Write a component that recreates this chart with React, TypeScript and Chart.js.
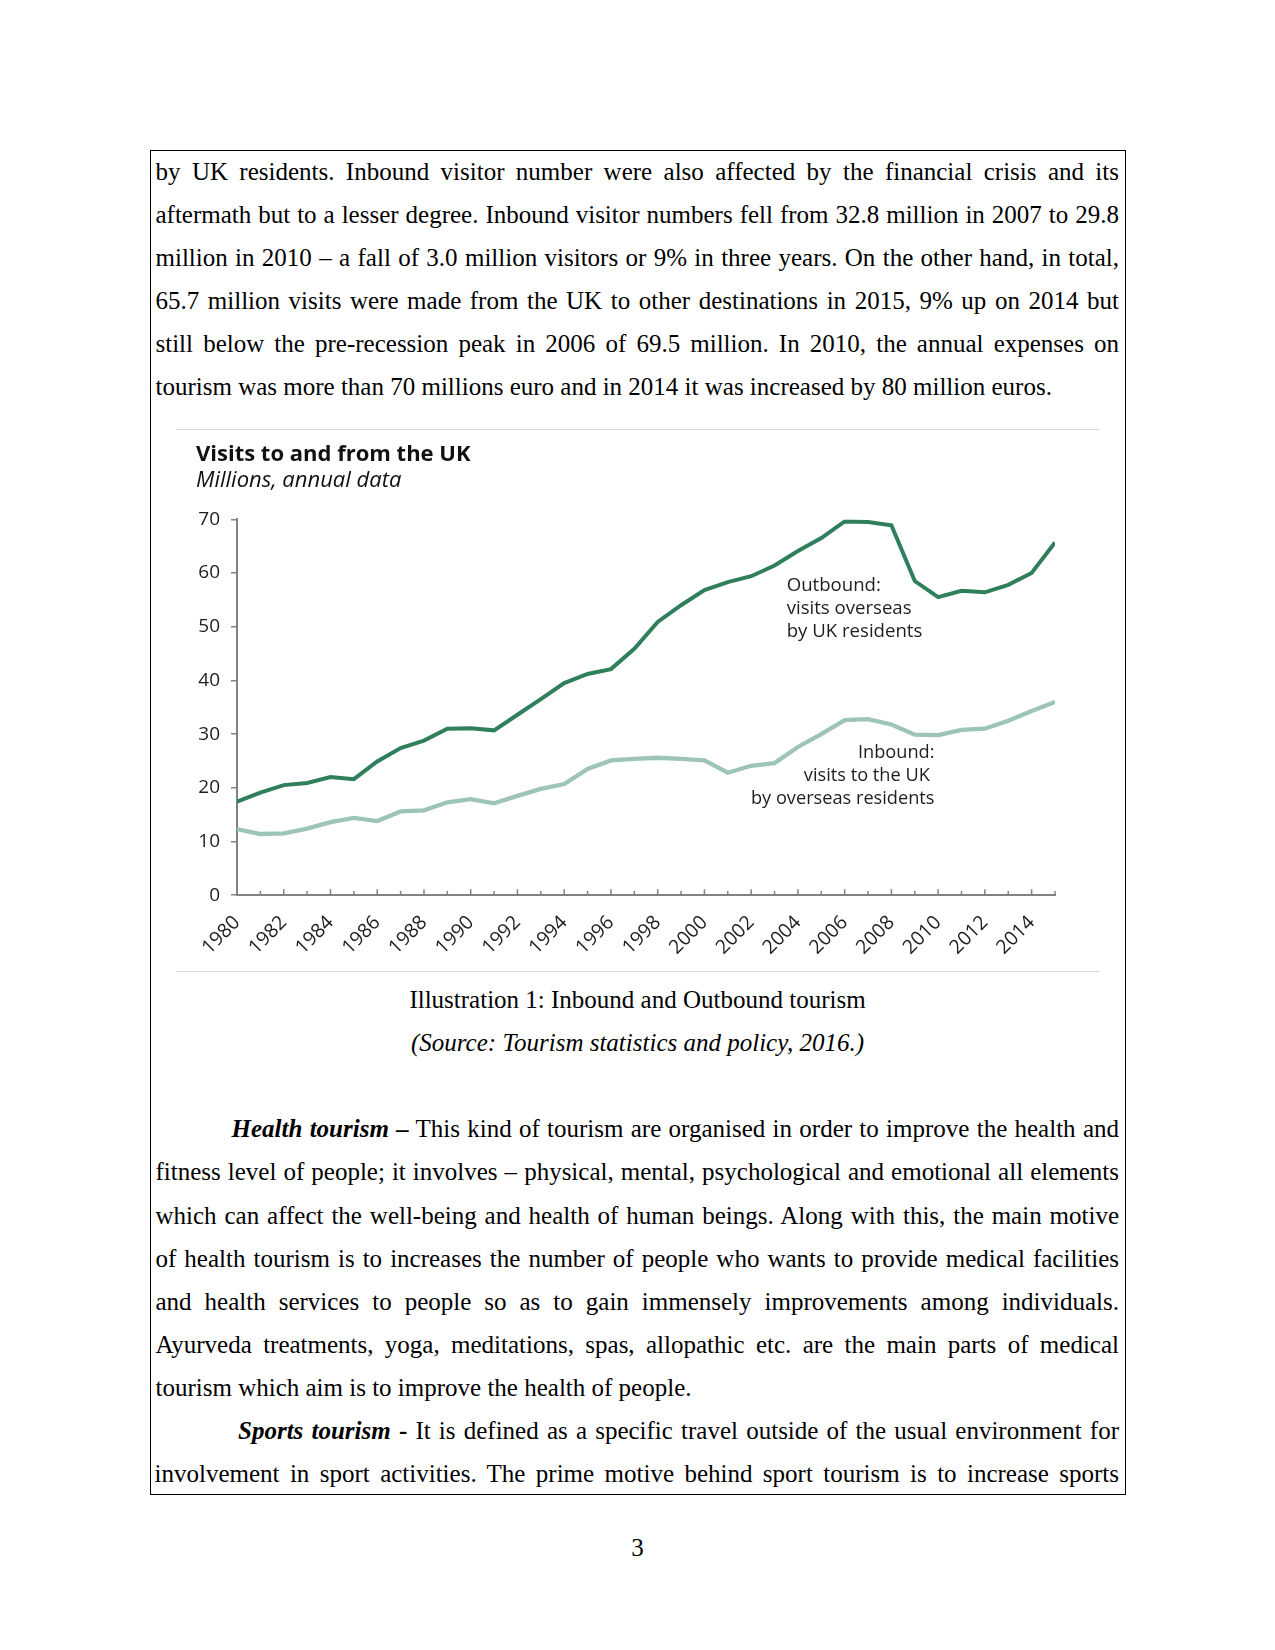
import React, { useEffect, useRef } from 'react';
import { Chart, registerables } from 'chart.js';

Chart.register(...registerables);

// ---------- chart data ----------
const years = [
  1980, 1981, 1982, 1983, 1984, 1985, 1986, 1987, 1988, 1989,
  1990, 1991, 1992, 1993, 1994, 1995, 1996, 1997, 1998, 1999,
  2000, 2001, 2002, 2003, 2004, 2005, 2006, 2007, 2008, 2009,
  2010, 2011, 2012, 2013, 2014, 2015,
];
const outbound = [
  17.4, 19.1, 20.5, 20.9, 22.0, 21.6, 24.9, 27.4, 28.8, 31.0,
  31.1, 30.7, 33.6, 36.5, 39.5, 41.2, 42.1, 45.9, 50.9, 54.0,
  56.8, 58.3, 59.4, 61.4, 64.1, 66.5, 69.6, 69.5, 68.9, 58.5,
  55.5, 56.7, 56.4, 57.8, 60.0, 65.7,
];
const inbound = [
  12.3, 11.4, 11.5, 12.4, 13.6, 14.4, 13.8, 15.6, 15.8, 17.3,
  17.9, 17.1, 18.5, 19.8, 20.7, 23.5, 25.1, 25.4, 25.6, 25.4,
  25.1, 22.8, 24.1, 24.6, 27.6, 30.0, 32.6, 32.8, 31.8, 29.9,
  29.8, 30.8, 31.0, 32.5, 34.3, 36.0,
];
const yTicks = [0, 10, 20, 30, 40, 50, 60, 70];
const xLabelYears = [
  1980, 1982, 1984, 1986, 1988, 1990, 1992, 1994, 1996, 1998,
  2000, 2002, 2004, 2006, 2008, 2010, 2012, 2014,
];
const chartTitle = 'Visits to and from the UK';
const chartSubtitle = 'Millions, annual data';
const outboundNote = ['Outbound:', 'visits overseas', 'by UK residents'];
const inboundNote = ['Inbound:', 'visits to the UK ', 'by overseas residents'];

const OUT_COLOR = '#2f7f5c';
const IN_COLOR = '#9dc5b4';
const AXIS_COLOR = '#828282';
const TEXT_COLOR = '#1e1e1e';
const SANS = "'Open Sans', 'Noto Sans', sans-serif";
const SERIF = "'Liberation Serif', 'Times New Roman', serif";

const CW = 923;
const CH = 540;

const decorPlugin = {
  id: 'decor',
  afterDraw(chart: any) {
    const { ctx, scales } = chart;
    const x = scales.x;
    const y = scales.y;
    const yb = y.getPixelForValue(0);
    ctx.save();
    // inward tick marks on the x axis
    ctx.strokeStyle = AXIS_COLOR;
    ctx.lineWidth = 1.5;
    for (const yr of years) {
      const px = x.getPixelForValue(yr);
      const len = yr % 2 === 0 ? 6 : 4.3;
      ctx.beginPath();
      ctx.moveTo(px, yb);
      ctx.lineTo(px, yb - len);
      ctx.stroke();
    }
    // title & subtitle
    ctx.fillStyle = '#111';
    ctx.textAlign = 'left';
    ctx.textBaseline = 'alphabetic';
    ctx.font = `bold 22px ${SANS}`;
    ctx.fillText(chartTitle, 20, 31);
    ctx.font = `italic 22px ${SANS}`;
    ctx.fillText(chartSubtitle, 20, 57);
    // annotations
    ctx.fillStyle = TEXT_COLOR;
    ctx.font = `18.6px ${SANS}`;
    outboundNote.forEach((t, i) => ctx.fillText(t, 610.7, 160.7 + i * 23.3));
    ctx.textAlign = 'right';
    ctx.font = `18.2px ${SANS}`;
    inboundNote.forEach((t, i) => ctx.fillText(t, 758.5, 327.7 + i * 23.3));
    ctx.restore();
  },
};

function UKChart() {
  const ref = useRef<HTMLCanvasElement | null>(null);
  useEffect(() => {
    if (!ref.current) return;
    const chart = new Chart(ref.current, {
      type: 'line',
      data: {
        datasets: [
          {
            label: 'Outbound',
            data: years.map((yr, i) => ({ x: yr, y: outbound[i] })),
            borderColor: OUT_COLOR,
            borderWidth: 4,
            pointRadius: 0,
            tension: 0,
            fill: false,
          },
          {
            label: 'Inbound',
            data: years.map((yr, i) => ({ x: yr, y: inbound[i] })),
            borderColor: IN_COLOR,
            borderWidth: 4.3,
            pointRadius: 0,
            tension: 0,
            fill: false,
          },
        ],
      },
      options: {
        animation: false,
        responsive: false,
        devicePixelRatio: 1,
        layout: { padding: { top: 89.3, right: 44, left: 0, bottom: 0 } },
        plugins: {
          legend: { display: false },
          tooltip: { enabled: false },
          title: { display: false },
        },
        scales: {
          x: {
            type: 'linear',
            min: years[0],
            max: years[years.length - 1],
            afterFit: (s: any) => { s.height = CH - 465.2; },
            afterBuildTicks: (s: any) => {
              s.ticks = years.map((v) => ({ value: v }));
            },
            grid: { display: false, drawTicks: false },
            border: { display: true, color: AXIS_COLOR, width: 2 },
            ticks: {
              autoSkip: false,
              minRotation: 45,
              maxRotation: 45,
              padding: 16,
              color: TEXT_COLOR,
              font: { family: SANS, size: 19.5 },
              callback: (v: any) => (xLabelYears.includes(v) ? String(v) : ''),
            },
          },
          y: {
            min: 0,
            max: 70,
            afterFit: (s: any) => { s.width = 61; },
            afterBuildTicks: (s: any) => {
              s.ticks = yTicks.map((v) => ({ value: v }));
            },
            grid: {
              display: true,
              drawOnChartArea: false,
              drawTicks: true,
              tickLength: 6,
              color: AXIS_COLOR,
              lineWidth: 1.5,
            },
            border: { display: true, color: AXIS_COLOR, width: 2 },
            ticks: {
              padding: 11,
              color: TEXT_COLOR,
              font: { family: SANS, size: 19 },
            },
          },
        },
      },
      plugins: [decorPlugin],
    } as any);
    return () => chart.destroy();
  }, []);
  return (
    <canvas
      ref={ref}
      width={CW}
      height={CH}
      style={{ position: 'absolute', left: 176, top: 430, width: CW, height: CH }}
    />
  );
}

// ---------- document text ----------
const para1 = [
  'by UK residents. Inbound visitor number were also affected by the financial crisis and its',
  'aftermath but to a lesser degree. Inbound visitor numbers fell from 32.8 million in 2007 to 29.8',
  'million in 2010 \u2013 a fall of 3.0 million visitors or 9% in three years. On the other hand, in total,',
  '65.7 million visits were made from the UK to other destinations in 2015, 9% up on 2014 but',
  'still below the pre-recession peak in 2006 of 69.5 million. In 2010, the annual expenses on',
  'tourism was more than 70 millions euro and in 2014 it was increased by 80 million euros.',
];
const healthRest = [
  'fitness level of people; it involves \u2013 physical, mental, psychological and emotional all elements',
  'which can affect the well-being and health of human beings. Along with this, the main motive',
  'of health tourism is to increases the number of people who wants to provide medical facilities',
  'and health services to people so as to gain immensely improvements among individuals.',
  'Ayurveda treatments, yoga, meditations, spas, allopathic etc. are the main parts of medical',
  'tourism which aim is to improve the health of people.',
];

const ASC = 29.94; // baseline offset inside a 43px line box for 25px Liberation Serif
const TL = 155.5;
const TW = 963.5;

function Line({ baseline, align, left = TL, width = TW, indent = 0, italic = false, children }: any) {
  return (
    <div
      style={{
        position: 'absolute',
        left,
        width,
        top: baseline - ASC,
        height: 43,
        lineHeight: '43px',
        fontSize: 25,
        fontFamily: SERIF,
        fontStyle: italic ? 'italic' : 'normal',
        color: '#000',
        textAlign: align,
        textAlignLast: align,
        paddingLeft: indent,
        boxSizing: 'border-box',
      } as any}
    >
      {children}
    </div>
  );
}

export default function App() {
  const p1Base = 179.6;
  const step = 43.05;
  const hBase = 1137.3;
  return (
    <div style={{ position: 'absolute', left: 0, top: 0, width: 1275, height: 1650, background: '#fff', overflow: 'hidden' }}>
      <div
        style={{
          position: 'absolute',
          left: 150,
          top: 150,
          width: 976,
          height: 1345,
          border: '1px solid #000',
          boxSizing: 'border-box',
        }}
      />
      {para1.map((t, i) => (
        <Line key={'p' + i} baseline={p1Base + i * step} align={i === para1.length - 1 ? 'left' : 'justify'}>
          {t}
        </Line>
      ))}

      <div style={{ position: 'absolute', left: 176, top: 429, width: 923, height: 1, background: '#d9d9d9' }} />
      <UKChart />
      <div style={{ position: 'absolute', left: 176, top: 971, width: 923, height: 1, background: '#d9d9d9' }} />

      <Line baseline={hBase - 3 * 43.1} align="center" left={0} width={1275}>
        Illustration 1: Inbound and Outbound tourism
      </Line>
      <Line baseline={hBase - 2 * 43.1} align="center" left={0} width={1275} italic>
        (Source: Tourism statistics and policy, 2016.)
      </Line>

      <Line baseline={hBase} align="justify" indent={76}>
        <b><i>Health tourism {'\u2013'}</i></b> This kind of tourism are organised in order to improve the health and
      </Line>
      {healthRest.map((t, i) => (
        <Line key={'h' + i} baseline={hBase + (i + 1) * 43.1} align={i === healthRest.length - 1 ? 'left' : 'justify'}>
          {t}
        </Line>
      ))}
      <Line baseline={hBase + 7 * 43.1} align="justify" indent={82.5}>
        <b><i>Sports tourism</i> -</b> It is defined as a specific travel outside of the usual environment for
      </Line>
      <Line baseline={hBase + 8 * 43.1} align="justify" left={154.5} width={964.5}>
        involvement in sport activities. The prime motive behind sport tourism is to increase sports
      </Line>

      <Line baseline={1556} align="center" left={0} width={1275}>
        3
      </Line>
    </div>
  );
}
